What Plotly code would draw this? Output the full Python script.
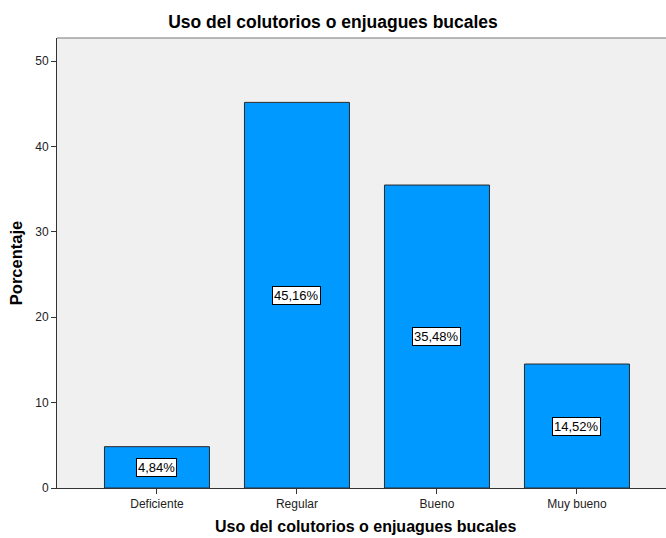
import plotly.graph_objects as go

categories = ["Deficiente", "Regular", "Bueno", "Muy bueno"]
values = [4.84, 45.16, 35.48, 14.52]
labels = ["4,84%", "45,16%", "35,48%", "14,52%"]
y_ticks = [0, 10, 20, 30, 40, 50]

fig = go.Figure()
fig.add_trace(go.Bar(
    x=list(range(len(categories))), y=values, width=0.75,
    marker=dict(color="#0099FF", line=dict(color="#2a2a2a", width=1)),
    hoverinfo="skip",
))

for i, (v, t) in enumerate(zip(values, labels)):
    fig.add_annotation(x=i, y=v / 2, text=t, showarrow=False,
                       font=dict(family="Arial", size=13, color="black"),
                       bgcolor="white", bordercolor="black", borderwidth=1, borderpad=1)

# x-axis title placed as annotation (centred like the reference)
fig.add_annotation(x=(366 - 57) / 609, y=-(526 - 488) / 450, xref="paper", yref="paper",
                   text="<b>Uso del colutorios o enjuagues bucales</b>", showarrow=False,
                   xanchor="center", yanchor="middle",
                   font=dict(family="Arial", size=16, color="black"))

fig.update_layout(
    width=666, height=538,
    margin=dict(l=57, r=0, t=38, b=50),
    paper_bgcolor="white", plot_bgcolor="#F0F0F0",
    showlegend=False,
    title=dict(text="<b>Uso del colutorios o enjuagues bucales</b>", x=0.5, xanchor="center",
               y=1 - 22 / 538, yanchor="middle",
               font=dict(family="Arial", size=17.5, color="black")),
    font=dict(family="Arial"),
)
fig.update_xaxes(
    range=[-0.714, 3.636], tickmode="array", tickvals=list(range(len(categories))),
    ticktext=categories, ticks="outside", ticklen=5, tickcolor="#333",
    tickfont=dict(family="Arial", size=12, color="#222"),
    showline=True, linecolor="#333", linewidth=1, showgrid=False, zeroline=False,
)
fig.update_yaxes(
    range=[0, 52.7], tickmode="array", tickvals=y_ticks, ticks="outside", ticklen=5,
    tickcolor="#333", tickfont=dict(family="Arial", size=12, color="#222"),
    showline=True, linecolor="#333", linewidth=1, showgrid=False, zeroline=False,
    title=dict(text="<b>Porcentaje</b>", font=dict(family="Arial", size=16.5, color="black"),
               standoff=8),
)
fig.add_shape(type="line", xref="paper", yref="paper", x0=0, x1=1, y0=1, y1=1,
              line=dict(color="#777", width=1))

fig.write_html("out.html")
